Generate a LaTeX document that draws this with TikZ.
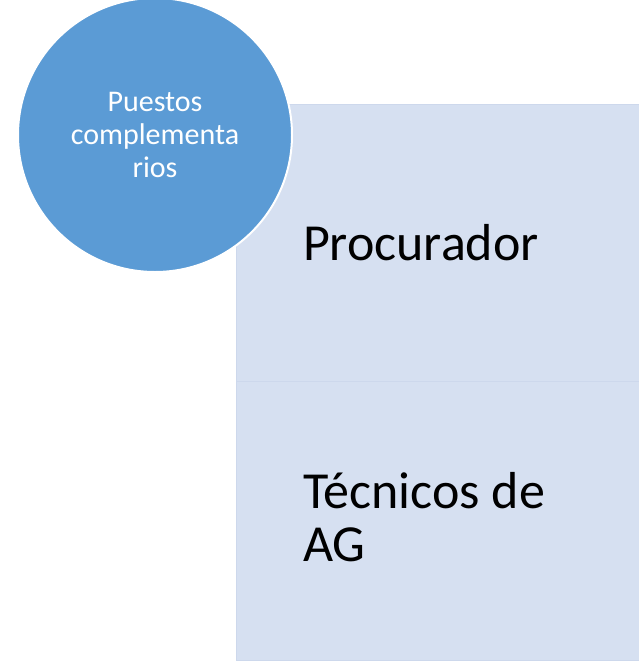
\documentclass[tikz,border=0pt]{standalone}
\usepackage{fontspec}
\setmainfont{Carlito}
\usetikzlibrary{positioning}

\definecolor{circblue}{HTML}{5B9BD5}
\definecolor{boxblue}{HTML}{D6E0F1}
\definecolor{boxedge}{HTML}{CDD8EC}

\begin{document}
\begin{tikzpicture}[x=1pt, y=-1pt]
	\tikzstyle{every node}=[inner sep=0pt, outer sep=0pt]
	\tikzstyle{cargo}=[rectangle, fill=boxblue, draw=boxedge, line width=0.8pt, anchor=north west, minimum width=410pt]
	\tikzstyle{titulo}=[circle, fill=circblue, draw=white, line width=2pt, minimum size=274pt, text=white, align=center, font=\fontsize{30}{33}\selectfont]
	\tikzstyle{rotulo}=[anchor=base west, align=left, text=black, font=\fontsize{52}{53}\selectfont]
	\useasboundingbox (0,0) rectangle (638,664);
	\node[cargo, minimum height=277pt]    (arriba)   at (236,104) {};
	\node[cargo, minimum height=279pt]    (abajo)    at (236,381) {};
	\node[rotulo]    (procurador)   at (303,260) {Procurador};
	\node[rotulo]    (tecnicos)     at (303,561) {Técnicos de\\AG};
	\node[titulo]    (puestos)      at (155,135) {Puestos\\complementa\\rios};
\end{tikzpicture}
\end{document}
